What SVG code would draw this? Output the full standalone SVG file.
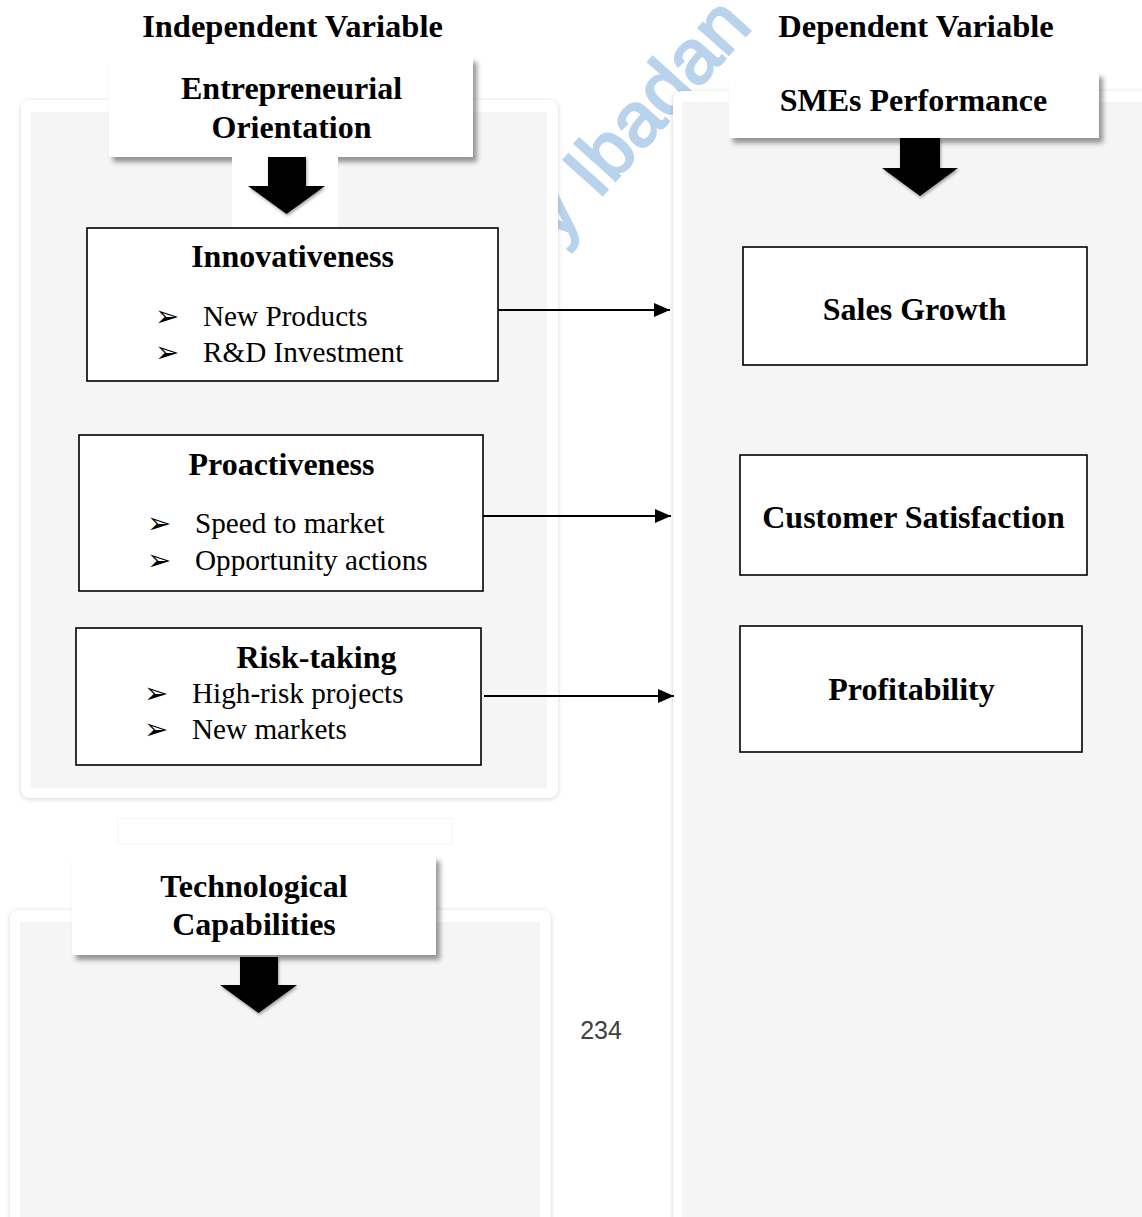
<svg xmlns="http://www.w3.org/2000/svg" width="1142" height="1217" viewBox="0 0 1142 1217">
  <defs>
    <filter id="cardShadow" x="-5%" y="-5%" width="110%" height="110%">
      <feDropShadow dx="0" dy="1" stdDeviation="2.5" flood-color="#000" flood-opacity="0.18"/>
    </filter>
    <filter id="headShadow" x="-5%" y="-10%" width="115%" height="130%">
      <feDropShadow dx="4" dy="5" stdDeviation="2.5" flood-color="#000" flood-opacity="0.4"/>
    </filter>
    <filter id="arrowShadow" x="-20%" y="-20%" width="140%" height="150%">
      <feDropShadow dx="1" dy="2" stdDeviation="1.5" flood-color="#000" flood-opacity="0.35"/>
    </filter>
    <marker id="tip" markerUnits="userSpaceOnUse" markerWidth="17" markerHeight="14" refX="16" refY="7" orient="auto">
      <path d="M0,0 L16,7 L0,14 Z" fill="#000"/>
    </marker>
    <style>
      .title { font-family: "Liberation Serif", "Times New Roman", serif; font-weight: bold; font-size: 32px; fill: #000; text-anchor: middle; }
      .heading { font-size: 32.5px; }
      .item { font-family: "Liberation Serif", "Times New Roman", serif; font-size: 29.2px; fill: #000; }
      .bullet { font-family: "DejaVu Sans", sans-serif; font-size: 29px; fill: #000; }
      .box { fill: #fff; stroke: #000; stroke-width: 1.6; }
      .head { fill: #fff; filter: url(#headShadow); }
      .card { fill: #fff; filter: url(#cardShadow); }
      .inner { fill: #f5f5f5; }
      .block { fill: #000; filter: url(#arrowShadow); }
      .link { stroke: #000; stroke-width: 2; fill: none; marker-end: url(#tip); }
      .mark { font-family: "Liberation Sans", Arial, sans-serif; font-size: 76px; fill: #b9d3ec; stroke: #b9d3ec; stroke-width: 2.5; }
    </style>
  </defs>

  <rect width="1142" height="1217" fill="#fff"/>

  <!-- library watermark, only visible between the panels -->
  <g id="watermark" transform="translate(598,200) rotate(-48)">
    <text class="mark" x="-59" y="0">y Ibadan</text>
  </g>

  <!-- column headings -->
  <text class="title heading" x="292.5" y="37">Independent Variable</text>
  <text class="title heading" x="916" y="37">Dependent Variable</text>

  <!-- panels -->
  <g id="panel-left">
    <rect class="card" x="21" y="100" width="537" height="698" rx="9"/>
    <rect class="inner" x="31" y="112" width="516" height="676"/>
  </g>
  <g id="panel-right">
    <rect class="card" x="673" y="91" width="490" height="1150" rx="9"/>
    <rect class="inner" x="682" y="102" width="470" height="1130"/>
  </g>
  <g id="panel-bottom">
    <rect class="card" x="10" y="910" width="541" height="330" rx="9"/>
    <rect class="inner" x="20" y="922" width="520" height="310"/>
  </g>
  <rect x="118" y="818" width="334" height="26" fill="none" stroke="#f4f4f4" stroke-width="1"/>

  <!-- header: Entrepreneurial Orientation -->
  <g id="eo">
    <rect class="head" x="109" y="57" width="364" height="100"/>
    <text class="title" x="291.5" y="99">Entrepreneurial</text>
    <text class="title" x="291.5" y="138">Orientation</text>
    <rect x="232" y="157" width="106" height="72" fill="#fff"/>
    <path class="block" d="M268,157 H306 V186 H325 L286.5,214 L248,186 H268 Z"/>
  </g>

  <!-- header: SMEs Performance -->
  <g id="smes">
    <rect class="head" x="729" y="72" width="370" height="66"/>
    <text class="title" x="913.5" y="111">SMEs Performance</text>
    <path class="block" d="M900,138 H940 V168 H958 L920,196 L882,168 H900 Z"/>
  </g>

  <!-- header: Technological Capabilities -->
  <g id="tc">
    <rect class="head" x="72" y="856" width="364" height="99"/>
    <text class="title" x="254" y="897">Technological</text>
    <text class="title" x="254" y="935">Capabilities</text>
    <path class="block" d="M240,957 H278 V985 H297 L258.5,1013 L220,985 H240 Z"/>
  </g>

  <!-- independent variable dimensions -->
  <g id="innovativeness">
    <rect class="box" x="87" y="228" width="411" height="153"/>
    <text class="title" x="292.5" y="267">Innovativeness</text>
    <text class="bullet" x="155" y="326">➢</text>
    <text class="item" x="203" y="326">New Products</text>
    <text class="bullet" x="155" y="362">➢</text>
    <text class="item" x="203" y="362">R&amp;D Investment</text>
  </g>
  <g id="proactiveness">
    <rect class="box" x="79" y="435" width="404" height="156"/>
    <text class="title" x="281.5" y="475">Proactiveness</text>
    <text class="bullet" x="147" y="533">➢</text>
    <text class="item" x="195" y="533">Speed to market</text>
    <text class="bullet" x="147" y="570">➢</text>
    <text class="item" x="195" y="570">Opportunity actions</text>
  </g>
  <g id="risk-taking">
    <rect class="box" x="76" y="628" width="405" height="137"/>
    <text class="title" x="316.5" y="668">Risk-taking</text>
    <text class="bullet" x="144" y="703">➢</text>
    <text class="item" x="192" y="703">High-risk projects</text>
    <text class="bullet" x="144" y="739">➢</text>
    <text class="item" x="192" y="739">New markets</text>
  </g>

  <!-- dependent variable measures -->
  <g id="sales-growth">
    <rect class="box" x="743" y="247" width="344" height="118"/>
    <text class="title" x="914.5" y="320">Sales Growth</text>
  </g>
  <g id="customer-satisfaction">
    <rect class="box" x="740" y="455" width="347" height="120"/>
    <text class="title" x="913.5" y="528">Customer Satisfaction</text>
  </g>
  <g id="profitability">
    <rect class="box" x="740" y="626" width="342" height="126"/>
    <text class="title" x="911.5" y="700">Profitability</text>
  </g>

  <!-- connectors -->
  <g id="connectors">
    <line class="link" x1="498" y1="310" x2="670" y2="310"/>
    <line class="link" x1="483" y1="516" x2="671" y2="516"/>
    <line class="link" x1="484" y1="696" x2="674" y2="696"/>
  </g>

  <!-- page number -->
  <text x="601" y="1039" text-anchor="middle" font-family="Liberation Sans, Arial, sans-serif" font-size="25" fill="#404040">234</text>
</svg>
